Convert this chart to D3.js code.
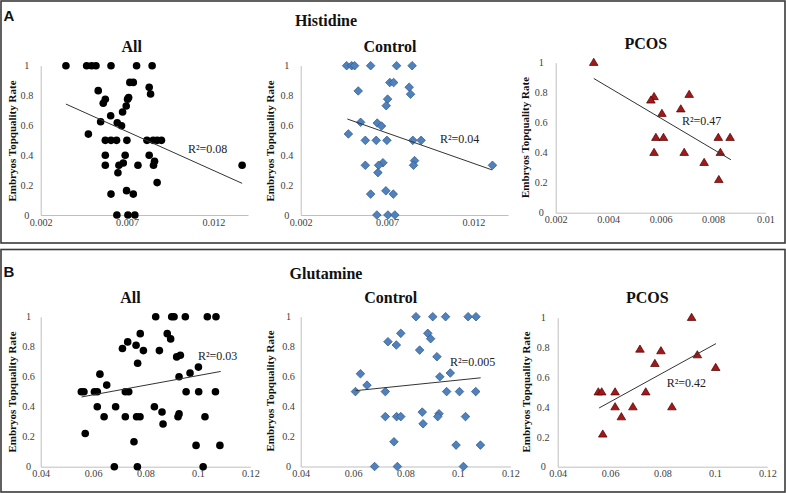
<!DOCTYPE html>
<html>
<head>
<meta charset="utf-8">
<script src="https://cdn.jsdelivr.net/npm/d3@7"></script>
<style>
  html, body { margin: 0; padding: 0; background: #fff; }
  svg { display: block; }
</style>
</head>
<body>
<svg id="chart" width="786" height="493"></svg>
<script>
// ---------------- DATA ----------------
const sectionLetters = ["A", "B"];
const sectionTitles = ["Histidine", "Glutamine"];
const panelTitles = ["All", "Control", "PCOS"];
const yAxisTitle = "Embryos Topquality Rate";
const yTicks = [0, 0.2, 0.4, 0.6, 0.8, 1];
const yTickLabels = ["0", "0.2", "0.4", "0.6", "0.8", "1"];
const histWideTicks = [0.002, 0.007, 0.012];
const histWideTickLabels = ["0.002", "0.007", "0.012"];
const histPcosTicks = [0.002, 0.004, 0.006, 0.008, 0.01];
const histPcosTickLabels = ["0.002", "0.004", "0.006", "0.008", "0.01"];
const glnTicks = [0.04, 0.06, 0.08, 0.1, 0.12];
const glnTickLabels = ["0.04", "0.06", "0.08", "0.1", "0.12"];
const r2Labels = ["R²=0.08", "R²=0.04", "R²=0.47", "R²=0.03", "R²=0.005", "R²=0.42"];

// Histidine - All
const histAllX = [0.00346,0.00466,0.00495,0.0052,0.00607,0.00755,0.00845,
  0.00716,0.00736,0.00828,0.00836,0.00533,0.00703,0.00709,0.00695,0.00574,0.00562,
  0.00674,0.00605,0.00547,0.00643,0.00668,0.00476,
  0.00574,0.00607,0.00639,0.00699,0.00815,0.00851,0.00874,0.00899,
  0.00574,0.00689,0.00828,0.00859,0.00678,0.00653,
  0.00574,0.00763,0.00853,0.01366,0.00647,0.00874,0.00697,0.00607,0.00736,
  0.00641,0.00705,0.00745];
const histAllY = [1,1,1,1,1,1,1,
  0.888,0.888,0.855,0.81,0.833,0.776,0.787,0.73,0.775,0.748,
  0.69,0.665,0.625,0.618,0.598,0.542,
  0.5,0.5,0.5,0.5,0.5,0.5,0.5,0.5,
  0.4,0.4,0.4,0.36,0.348,0.333,
  0.333,0.333,0.333,0.333,0.283,0.217,0.163,0.14,0.14,
  0,0,0];
const histAllTrendX = [0.00346, 0.01366];
const histAllTrendY = [0.743, 0.212];

// Histidine - Control
const histCtrlX = [0.00466,0.00495,0.00512,0.00605,0.00755,0.00845,
  0.00716,0.00738,0.00828,0.00836,0.00533,0.00703,0.00695,
  0.00547,0.00643,0.00668,0.00476,
  0.00574,0.00637,0.00699,0.00849,0.00897,
  0.00859,0.00676,0.00651,0.00574,0.00853,0.0131,
  0.00647,0.00693,0.00605,0.00736,0.00641,0.00705,0.00745];
const histCtrlY = [1,1,1,1,1,1,
  0.887,0.887,0.856,0.809,0.831,0.776,0.732,
  0.621,0.616,0.596,0.543,
  0.5,0.5,0.5,0.5,0.5,
  0.364,0.35,0.333,0.333,0.333,0.333,
  0.284,0.162,0.14,0.14,0,0,0];
const histCtrlTrendX = [0.0047, 0.01308];
const histCtrlTrendY = [0.643, 0.302];

// Histidine - PCOS
const histPcosX = [0.00345,0.00575,0.00563,0.00709,0.00677,0.00605,
  0.00582,0.00611,0.0082,0.00865,0.00575,0.0069,0.00828,0.00766,0.00822];
const histPcosY = [1,0.772,0.749,0.787,0.69,0.66,
  0.5,0.5,0.5,0.5,0.4,0.4,0.4,0.333,0.219];
const histPcosTrendX = [0.00345, 0.00868];
const histPcosTrendY = [0.895, 0.353];

// Glutamine - All
const glnAllX = [0.0839,0.0900,0.0909,0.0952,0.1036,0.1069,
  0.0780,0.0883,0.0896,0.0732,0.0764,0.0712,0.0792,0.0853,0.0919,0.0933,
  0.0770,0.1002,0.0970,0.0626,0.0928,0.0652,
  0.0555,0.0565,0.0605,0.0616,0.0723,0.0736,0.0955,0.1003,0.1067,
  0.0616,0.0686,0.0834,0.0863,0.0928,
  0.0642,0.0723,0.0766,0.0779,0.0924,0.1027,
  0.0867,0.0570,0.0756,0.0993,0.1084,0.0681,0.0769,0.1020];
const glnAllY = [1,1,1,1,1,1,
  0.887,0.887,0.852,0.832,0.81,0.788,0.774,0.774,0.732,0.743,
  0.69,0.664,0.624,0.617,0.6,0.544,
  0.5,0.5,0.5,0.5,0.5,0.5,0.5,0.5,0.5,
  0.4,0.4,0.4,0.365,0.352,
  0.333,0.333,0.333,0.333,0.333,0.333,
  0.285,0.221,0.166,0.142,0.142,0,0,0];
const glnAllTrendX = [0.0556, 0.1087];
const glnAllTrendY = [0.465, 0.635];

// Glutamine - Control
const glnCtrlX = [0.0840,0.0904,0.0953,0.1039,0.1069,
  0.0782,0.0885,0.0896,0.0733,0.0765,0.0854,0.0920,0.0971,0.0628,0.0931,0.0653,
  0.0609,0.0723,0.0957,0.1006,0.1068,
  0.0864,0.0928,0.0723,0.0766,0.0782,0.0923,0.1029,
  0.0867,0.0756,0.0993,0.1086,0.0682,0.0769,0.1021];
const glnCtrlY = [1,1,1,1,1,
  0.889,0.889,0.853,0.833,0.811,0.777,0.733,0.624,0.619,0.599,0.543,
  0.5,0.5,0.5,0.5,0.5,
  0.363,0.352,0.333,0.333,0.333,0.333,0.333,
  0.285,0.165,0.143,0.143,0,0,0];
const glnCtrlTrendX = [0.0609, 0.1087];
const glnCtrlTrendY = [0.506, 0.592];

// Glutamine - PCOS
const glnPcosX = [0.0911,0.0714,0.0794,0.0771,0.0933,0.1003,
  0.0555,0.0568,0.0619,0.0736,0.0619,0.0687,0.0836,0.0643,0.0572];
const glnPcosY = [1,0.787,0.776,0.691,0.749,0.664,
  0.5,0.5,0.5,0.5,0.4,0.4,0.4,0.333,0.217];
const glnPcosTrendX = [0.0558, 0.1004];
const glnPcosTrendY = [0.394, 0.826];

// ---------------- LAYOUT ----------------
const svg = d3.select("#chart");
const serif = "'Liberation Serif','Times New Roman',serif";
const sans = "'Liberation Sans',Arial,sans-serif";

const sections = [
  {box: [1, 1, 784, 242], letterY: 20.5, titleY: 25.5},
  {box: [1, 249.5, 784, 242.5], letterY: 277, titleY: 278.5}
];
sections.forEach((s, i) => {
  svg.append("rect").attr("x", s.box[0]).attr("y", s.box[1])
    .attr("width", s.box[2]).attr("height", s.box[3])
    .attr("fill", "none").attr("stroke", "#3a3a3a").attr("stroke-width", 1.6);
  svg.append("text").attr("x", 3.5).attr("y", s.letterY)
    .attr("font-family", sans).attr("font-weight", "bold").attr("font-size", 15)
    .attr("fill", "#111").text(sectionLetters[i]);
  svg.append("text").attr("x", 326).attr("y", s.titleY).attr("text-anchor", "middle")
    .attr("font-family", serif).attr("font-weight", "bold").attr("font-size", 16)
    .attr("fill", "#111").text(sectionTitles[i]);
});

const panels = [
  {xs: histAllX, ys: histAllY, tx: histAllTrendX, ty: histAllTrendY, marker: "circle",
   dom: [0.002, 0.014], ticks: histWideTicks, tl: histWideTickLabels,
   xr: [40.7, 248], yr: [215, 65.7], title: 0, titleX: 131.7, titleY: 51.5,
   yTitleX: 11.7, yTitleY: 141, yLabOff: 13.8, r2: 0, r2x: 188, r2y: 152.5},
  {xs: histCtrlX, ys: histCtrlY, tx: histCtrlTrendX, ty: histCtrlTrendY, marker: "diamond",
   dom: [0.002, 0.014], ticks: histWideTicks, tl: histWideTickLabels,
   xr: [300.7, 508], yr: [215, 65.7], title: 1, titleX: 390, titleY: 51.5,
   yTitleX: 270, yTitleY: 141, yLabOff: 13.8, r2: 1, r2x: 440, r2y: 142.5},
  {xs: histPcosX, ys: histPcosY, tx: histPcosTrendX, ty: histPcosTrendY, marker: "triangle",
   dom: [0.002, 0.01], ticks: histPcosTicks, tl: histPcosTickLabels,
   xr: [555.7, 765.5], yr: [212.7, 62.7], title: 2, titleX: 645.8, titleY: 48.5,
   yTitleX: 525, yTitleY: 137.5, yLabOff: 14.5, r2: 2, r2x: 682, r2y: 124.5},
  {xs: glnAllX, ys: glnAllY, tx: glnAllTrendX, ty: glnAllTrendY, marker: "circle",
   dom: [0.04, 0.12], ticks: glnTicks, tl: glnTickLabels,
   xr: [40.7, 250.3], yr: [466.7, 316.7], title: 0, titleX: 130.5, titleY: 303,
   yTitleX: 11.7, yTitleY: 392, yLabOff: 12.2, r2: 3, r2x: 198, r2y: 359.5},
  {xs: glnCtrlX, ys: glnCtrlY, tx: glnCtrlTrendX, ty: glnCtrlTrendY, marker: "diamond",
   dom: [0.04, 0.12], ticks: glnTicks, tl: glnTickLabels,
   xr: [300.7, 510.3], yr: [466.5, 316.7], title: 1, titleX: 390.7, titleY: 302.5,
   yTitleX: 270, yTitleY: 391, yLabOff: 12.2, r2: 4, r2x: 450, r2y: 366},
  {xs: glnPcosX, ys: glnPcosY, tx: glnPcosTrendX, ty: glnPcosTrendY, marker: "triangle",
   dom: [0.04, 0.12], ticks: glnTicks, tl: glnTickLabels,
   xr: [557.7, 767.3], yr: [466.7, 317.7], title: 2, titleX: 647.3, titleY: 302.5,
   yTitleX: 526.5, yTitleY: 392, yLabOff: 14.5, r2: 5, r2x: 666.7, r2y: 387}
];

function markerPath(type, cx, cy) {
  if (type === "diamond") {
    const r = 4.3;
    return `M${cx},${cy - r}L${cx + r},${cy}L${cx},${cy + r}L${cx - r},${cy}Z`;
  }
  const hw = 4.3, h = 7.2;
  return `M${cx},${cy - h * 0.62}L${cx + hw},${cy + h * 0.38}L${cx - hw},${cy + h * 0.38}Z`;
}

panels.forEach(p => {
  const x = d3.scaleLinear().domain(p.dom).range(p.xr);
  const y = d3.scaleLinear().domain([0, 1]).range(p.yr);
  const g = svg.append("g");

  const xAxis = d3.axisBottom(x).tickValues(p.ticks)
    .tickFormat((d, i) => p.tl[i]).tickSize(0).tickSizeOuter(0).tickPadding(3.5);
  const gx = g.append("g").attr("transform", `translate(0,${p.yr[0]})`).call(xAxis);
  gx.attr("font-family", serif);
  gx.select(".domain").attr("stroke", "#bfbfbf").attr("stroke-width", 1);
  gx.selectAll("text").attr("font-family", serif).attr("font-size", 10.2).attr("fill", "#404040");

  const yAxis = d3.axisLeft(y).tickValues(yTicks)
    .tickFormat((d, i) => yTickLabels[i]).tickSize(0).tickSizeOuter(0).tickPadding(0);
  const gy = g.append("g").attr("transform", `translate(${p.xr[0]},0)`).call(yAxis);
  gy.attr("font-family", serif);
  gy.select(".domain").attr("stroke", "#bfbfbf").attr("stroke-width", 1);
  gy.selectAll("text").attr("font-family", serif).attr("font-size", 10.2).attr("fill", "#404040")
    .attr("text-anchor", "middle").attr("x", -p.yLabOff);

  const pts = p.xs.map((v, i) => [v, p.ys[i]]);
  if (p.marker === "circle") {
    g.selectAll("circle.pt").data(pts).join("circle").attr("class", "pt")
      .attr("cx", d => x(d[0])).attr("cy", d => y(d[1])).attr("r", 3.8)
      .attr("fill", "#000");
  } else if (p.marker === "diamond") {
    g.selectAll("path.pt").data(pts).join("path").attr("class", "pt")
      .attr("d", d => markerPath("diamond", x(d[0]), y(d[1])))
      .attr("fill", "#4f81bd").attr("stroke", "#2f5585").attr("stroke-width", 0.7);
  } else {
    g.selectAll("path.pt").data(pts).join("path").attr("class", "pt")
      .attr("d", d => markerPath("triangle", x(d[0]), y(d[1])))
      .attr("fill", "#a31818").attr("stroke", "#4a0000").attr("stroke-width", 0.7);
  }

  const trend = p.tx.map((v, i) => [v, p.ty[i]]);
  g.append("path").datum(trend)
    .attr("d", d3.line().x(d => x(d[0])).y(d => y(d[1])))
    .attr("fill", "none").attr("stroke", "#333").attr("stroke-width", 1);

  g.append("text").attr("x", p.r2x).attr("y", p.r2y)
    .attr("font-family", serif).attr("font-size", 12).attr("fill", "#222")
    .text(r2Labels[p.r2]);

  g.append("text").attr("x", p.titleX).attr("y", p.titleY).attr("text-anchor", "middle")
    .attr("font-family", serif).attr("font-weight", "bold").attr("font-size", 16)
    .attr("fill", "#111").text(panelTitles[p.title]);

  g.append("text")
    .attr("transform", `translate(${p.yTitleX},${p.yTitleY}) rotate(-90)`)
    .attr("text-anchor", "middle").attr("dy", "0.35em")
    .attr("font-family", serif).attr("font-weight", "bold").attr("font-size", 11)
    .attr("fill", "#111").text(yAxisTitle);
});
</script>
</body>
</html>
